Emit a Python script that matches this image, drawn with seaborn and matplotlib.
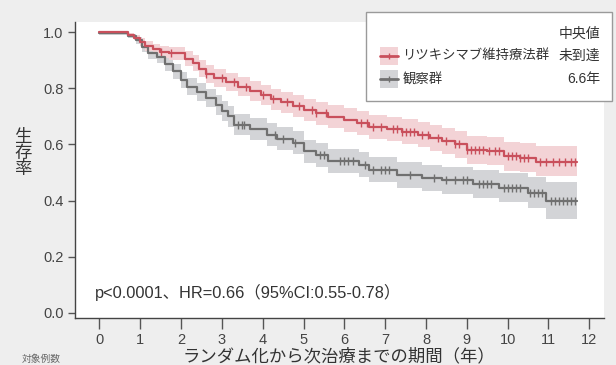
import numpy as np
import seaborn as sns
import matplotlib.pyplot as plt
from matplotlib.patches import Rectangle
from matplotlib.lines import Line2D

# Kaplan-Meier step data
red_t = [0, 0.7, 0.85, 1.0, 1.12, 1.3, 1.48, 1.7, 2.1, 2.3, 2.45, 2.6, 2.8, 3.1, 3.4, 3.7, 3.95, 4.2, 4.45,
         4.75, 5.0, 5.3, 5.6, 6.0, 6.3, 6.6, 7.05, 7.4, 7.8, 8.1, 8.4, 8.7, 9.0, 9.5, 9.9, 10.3, 10.7, 11.7]
red_s = [1.0, 0.99, 0.98, 0.965, 0.95, 0.94, 0.93, 0.924, 0.905, 0.89, 0.87, 0.85, 0.835, 0.822, 0.805, 0.79,
         0.775, 0.76, 0.75, 0.735, 0.722, 0.71, 0.699, 0.687, 0.675, 0.662, 0.655, 0.645, 0.635, 0.622, 0.612,
         0.60, 0.58, 0.575, 0.557, 0.552, 0.538, 0.538]
red_lo = [1.0, 0.982, 0.97, 0.951, 0.933, 0.921, 0.909, 0.901, 0.879, 0.862, 0.84, 0.819, 0.803, 0.789, 0.771,
          0.755, 0.739, 0.723, 0.712, 0.696, 0.682, 0.67, 0.658, 0.645, 0.633, 0.619, 0.611, 0.601, 0.59, 0.576,
          0.565, 0.552, 0.531, 0.525, 0.506, 0.50, 0.487, 0.487]
red_hi = [1.0, 0.998, 0.99, 0.979, 0.967, 0.959, 0.951, 0.947, 0.931, 0.918, 0.90, 0.881, 0.867, 0.855, 0.839,
          0.825, 0.811, 0.797, 0.788, 0.774, 0.762, 0.75, 0.74, 0.729, 0.717, 0.705, 0.699, 0.689, 0.68, 0.668,
          0.659, 0.648, 0.629, 0.625, 0.608, 0.604, 0.595, 0.595]
red_cens = [1.5, 1.75, 2.6, 3.0, 3.3, 3.6, 4.0, 4.25, 4.6, 4.9, 5.2, 5.3, 5.55, 6.4, 6.55, 6.7, 6.9, 7.2, 7.3,
            7.4, 7.5, 7.6, 7.7, 7.9, 8.05, 8.3, 8.5, 8.7, 8.8, 9.0, 9.1, 9.2, 9.3, 9.4, 9.55, 9.7, 9.8, 10.0,
            10.1, 10.2, 10.3, 10.4, 10.5, 10.8, 10.95, 11.1, 11.25, 11.4, 11.55, 11.65]

gray_t = [0, 0.7, 0.9, 1.05, 1.2, 1.4, 1.6, 1.8, 2.0, 2.15, 2.4, 2.6, 2.85, 3.0, 3.15, 3.3, 3.7, 4.1, 4.35,
          4.75, 5.0, 5.3, 5.6, 6.35, 6.6, 7.3, 7.9, 8.4, 9.15, 9.8, 10.5, 10.95, 11.7]
gray_s = [0.995, 0.985, 0.97, 0.945, 0.925, 0.91, 0.885, 0.86, 0.83, 0.805, 0.785, 0.765, 0.74, 0.72, 0.70,
          0.67, 0.655, 0.635, 0.62, 0.605, 0.575, 0.562, 0.542, 0.527, 0.51, 0.492, 0.48, 0.472, 0.458, 0.445,
          0.427, 0.40, 0.40]
gray_lo = [0.991, 0.977, 0.958, 0.928, 0.905, 0.888, 0.86, 0.833, 0.801, 0.774, 0.753, 0.732, 0.705, 0.684,
           0.663, 0.632, 0.616, 0.595, 0.58, 0.564, 0.533, 0.52, 0.499, 0.483, 0.465, 0.446, 0.433, 0.424,
           0.408, 0.393, 0.372, 0.335, 0.335]
gray_hi = [0.999, 0.993, 0.982, 0.962, 0.945, 0.932, 0.91, 0.887, 0.859, 0.836, 0.817, 0.798, 0.775, 0.756,
           0.737, 0.708, 0.694, 0.675, 0.66, 0.646, 0.617, 0.604, 0.585, 0.571, 0.555, 0.538, 0.527, 0.52,
           0.508, 0.497, 0.482, 0.466, 0.466]
gray_cens = [3.4, 3.5, 3.55, 4.3, 4.5, 4.8, 5.4, 5.5, 5.9, 6.0, 6.1, 6.2, 6.5, 6.7, 6.9, 7.0, 7.1, 7.6, 8.2,
             8.5, 8.7, 8.9, 9.0, 9.3, 9.4, 9.5, 9.6, 9.9, 10.0, 10.1, 10.2, 10.3, 10.55, 10.65, 10.75, 10.85,
             11.05, 11.15, 11.25, 11.35, 11.45, 11.55, 11.65]

groups = ['リツキシマブ維持療法群', '観察群']
medians = ['未到達', '6.6年']
x_ticks = list(range(0, 13))
y_ticks = [0.0, 0.2, 0.4, 0.6, 0.8, 1.0]

RED, RED_BAND = '#c9505c', '#f3d3d6'
GRAY, GRAY_BAND = '#707070', '#d3d4d7'
TXT = '#333333'

sns.set_style('ticks')
plt.rcParams['font.family'] = ['Liberation Sans', 'Noto Sans CJK JP', 'DejaVu Sans']

fig = plt.figure(figsize=(6.16, 3.65), dpi=100, facecolor='#eeeeee')
ax = fig.add_axes([0.121, 0.129, 0.8595, 0.811])
ax.set_facecolor('white')


def step_at(t, s, c):
    return [s[np.searchsorted(t, v, side='right') - 1] for v in c]


for t, s, lo, hi, cens, col, band in [(gray_t, gray_s, gray_lo, gray_hi, gray_cens, GRAY, GRAY_BAND),
                                      (red_t, red_s, red_lo, red_hi, red_cens, RED, RED_BAND)]:
    ax.fill_between(t, lo, hi, step='post', color=band, lw=0)
    sns.lineplot(x=t, y=s, ax=ax, drawstyle='steps-post', color=col, lw=1.6, estimator=None, sort=False)
    sns.scatterplot(x=cens, y=step_at(t, s, cens), ax=ax, marker='|', s=30, color=col, linewidth=1)

ax.set_xlim(-0.61, 12.36)
ax.set_ylim(-0.018, 1.036)
ax.set_xticks(x_ticks)
ax.set_yticks(y_ticks)
ax.set_yticklabels([f'{v:.1f}' for v in y_ticks])
ax.tick_params(axis='x', length=8, width=1, color='#555555', labelsize=10.5, labelcolor='#444444', pad=3)
ax.tick_params(axis='y', length=5, width=1, color='#555555', labelsize=10.5, labelcolor='#444444', pad=3)
for side in ['top', 'right']:
    ax.spines[side].set_visible(False)
for side in ['left', 'bottom']:
    ax.spines[side].set_color('#444444')
    ax.spines[side].set_linewidth(1)

ax.set_xlabel('ランダム化から次治療までの期間（年）', fontsize=12.5, color=TXT, labelpad=0)
ax.set_ylabel('生\n存\n率', rotation=0, fontsize=12.5, color=TXT, linespacing=1.0, va='center')
ax.yaxis.set_label_coords(-0.0975, 0.557)

ax.text(-0.11, 0.071, 'p<0.0001、HR=0.66（95%CI:0.55-0.78）', fontsize=11.8, color=TXT, va='center')

fig.text(0.036, 0.002, '対象例数', fontsize=7, color='#666666', va='bottom')

# legend box drawn in figure coordinates
fig.add_artist(Rectangle((0.594, 0.723), 0.3995, 0.244, transform=fig.transFigure,
                         facecolor='white', edgecolor='#9a9a9a', lw=1, zorder=5))
fig.text(0.975, 0.908, '中央値', ha='right', va='center', fontsize=10, color=TXT, zorder=6)
for yc, name, med, col, band in [(0.847, groups[0], medians[0], RED, RED_BAND),
                                 (0.784, groups[1], medians[1], GRAY, GRAY_BAND)]:
    fig.add_artist(Rectangle((0.617, yc - 0.024), 0.029, 0.048, transform=fig.transFigure,
                             facecolor=band, lw=0, zorder=6))
    fig.add_artist(Line2D([0.617, 0.646], [yc, yc], transform=fig.transFigure, color=col, lw=2, zorder=7))
    fig.add_artist(Line2D([0.6315], [yc], transform=fig.transFigure, color=col, marker='|', ms=5,
                          mew=1, zorder=7))
    fig.text(0.653, yc, name, ha='left', va='center', fontsize=9.6, color=TXT, zorder=6)
    fig.text(0.975, yc, med, ha='right', va='center', fontsize=10, color=TXT, zorder=6)

fig.savefig('out.png', dpi=100, facecolor=fig.get_facecolor())
